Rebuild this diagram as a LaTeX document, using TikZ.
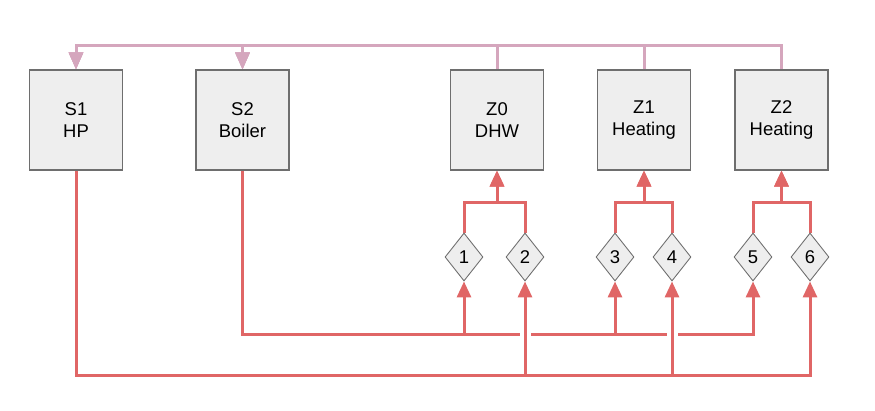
\documentclass[tikz,border=0pt]{standalone}
\usepackage{fontspec}
\setmainfont{Liberation Sans}
\usetikzlibrary{arrows.meta, shapes.geometric, backgrounds}
\definecolor{alirmerah}{RGB}{224,102,102}
\definecolor{balikpink}{RGB}{213,166,189}
\definecolor{isiabu}{RGB}{238,238,238}
\definecolor{garisabu}{RGB}{110,110,110}

\begin{document}
\begin{tikzpicture}[
    x=0.02cm, y=-0.02cm,
    font=\fontsize{10.5}{12.8}\selectfont,
    blok/.style={draw=garisabu, fill=isiabu, line width=0.6pt, align=center,
                 minimum width=1.86cm, minimum height=2cm, inner sep=0pt},
    katup/.style={diamond, draw=garisabu, fill=isiabu, line width=0.5pt,
                  minimum width=0.76cm, minimum height=0.96cm, inner sep=0pt},
    alir/.style={-{Triangle[length=3.2mm, width=2.8mm]}, alirmerah, line width=0.06cm},
    balik/.style={-{Triangle[length=3.4mm, width=2.8mm]}, balikpink, line width=0.06cm},
    lompat/.style={draw=white, line width=0.22cm, shorten <=0.2cm}
  ]
    \useasboundingbox (0,0) rectangle (875,410);

    % sumber dan zona
    \node[blok] (s1) at (76,120)    {S1\\HP};
    \node[blok] (s2) at (242.5,120) {S2\\Boiler};
    \node[blok] (z0) at (497,120)   {Z0\\DHW};
    \node[blok] (z1) at (644,120)   {Z1\\Heating};
    \node[blok] (z2) at (781.5,120) {Z2\\Heating};
    \foreach \n/\x in {1/464, 2/525, 3/615, 4/672, 5/753, 6/810}
      \node[katup] (d\n) at (\x,257) {\n};

    \coordinate (atas)   at (0,45);
    \coordinate (gabung) at (0,202);
    \coordinate (busS2)  at (0,334);
    \coordinate (busS1)  at (0,375);

    \begin{scope}[on background layer]
      % aliran balik
      \foreach \z in {z0,z1,z2}
        \foreach \s in {s1,s2}
          \draw[balik] (\z.north) |- (\s |- atas) -- (\s.north);
      % katup ke zona
      \foreach \a/\b/\z in {d1/d2/z0, d3/d4/z1, d5/d6/z2} {
        \draw[alir] (\a.north) |- (\z |- gabung) -- (\z.south);
        \draw[alir] (\b.north) |- (\z |- gabung) -- (\z.south);
      }
      % sumber ke katup
      \foreach \d in {d1,d3,d5}
        \draw[alir] (s2.south) |- (\d |- busS2) -- (\d.south);
      \foreach \d in {d2,d4,d6} {
        \draw[lompat] (\d |- busS1) -- (\d.south);
        \draw[alir] (s1.south) |- (\d |- busS1) -- (\d.south);
      }
    \end{scope}
\end{tikzpicture}
\end{document}
